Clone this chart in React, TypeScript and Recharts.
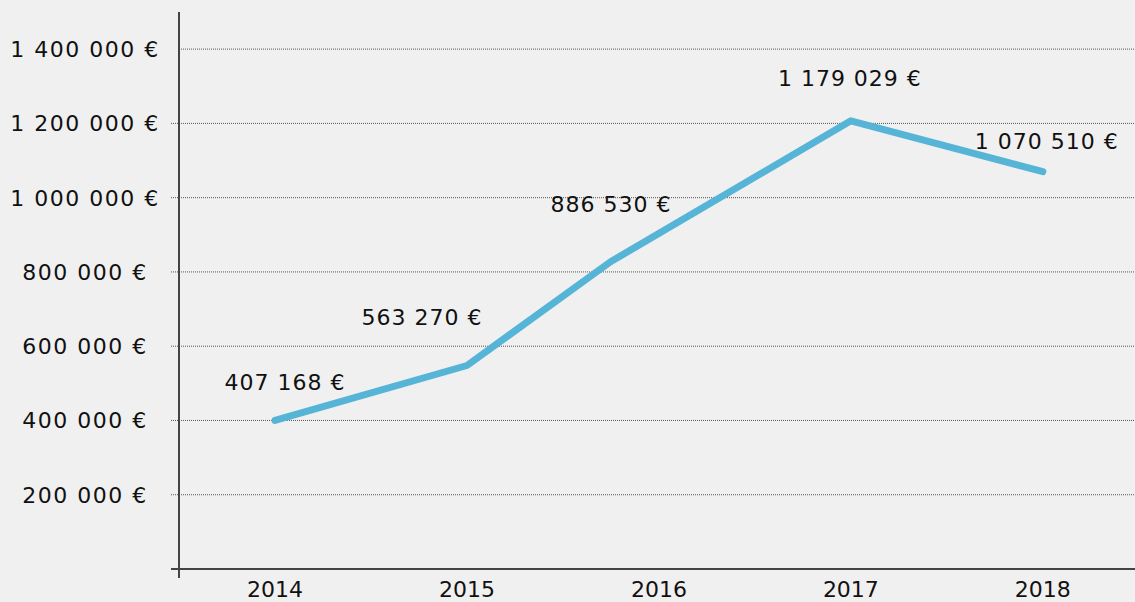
import React from 'react';
import { LineChart, Line, XAxis, YAxis, CartesianGrid, LabelList } from 'recharts';

// ---- data ----
const years = [2014, 2015, 2016, 2017, 2018];
const pointX = [2014, 2015, 2015.75, 2017, 2018];
const revenue = [400000, 548000, 828000, 1207000, 1070000];
const valueLabels = ['407 168 €', '563 270 €', '886 530 €', '1 179 029 €', '1 070 510 €'];
const yTicks = [0, 200000, 400000, 600000, 800000, 1000000, 1200000, 1400000];
const yTickLabels = ['', '200 000 €', '400 000 €', '600 000 €', '800 000 €', '1 000 000 €', '1 200 000 €', '1 400 000 €'];

// ---- styles ----
const labelOffsets: [number, number][] = [[10, -38], [-45, -48], [0, -57], [-1, -42], [4, -30]];
const FONT = '"DejaVu Sans", sans-serif';
const TEXT = '#111';
const AXIS = '#444';
const LINE = '#56b4d7';

const data = pointX.map((x, i) => ({ x, value: revenue[i], label: valueLabels[i] }));
const xTicks = [2013.5, ...years];

const YTick = (props: any) => {
  const { x, y, payload } = props;
  const idx = yTicks.indexOf(payload.value);
  const text = yTickLabels[idx] ?? '';
  return (
    <g>
      {payload.value === 0 ? (
        <line x1={x - 8} x2={x} y1={y} y2={y} stroke={AXIS} strokeWidth={2} />
      ) : idx < yTicks.length - 1 ? (
        <line x1={x - 8} x2={x} y1={y} y2={y} stroke="#555" strokeDasharray="1 1" />
      ) : null}
      {text && (
        <text x={x - 94} y={y + 8} textAnchor="middle" fill={TEXT} fontFamily={FONT} fontSize={22} letterSpacing={1.5}>
          {text}
        </text>
      )}
    </g>
  );
};

const XTick = (props: any) => {
  const { x, y, payload } = props;
  if (!years.includes(payload.value)) {
    return <line x1={x} x2={x} y1={y} y2={y + 9} stroke={AXIS} strokeWidth={2} />;
  }
  return (
    <text x={x} y={y + 28} textAnchor="middle" fill={TEXT} fontFamily={FONT} fontSize={22}>
      {String(payload.value)}
    </text>
  );
};

const ValueLabel = (props: any) => {
  const { x, y, index, value } = props;
  const [dx, dy] = labelOffsets[index] || [0, -30];
  return (
    <text x={x + dx} y={y + dy} dominantBaseline="central" textAnchor="middle" fill={TEXT} fontFamily={FONT} fontSize={22} letterSpacing={1}>
      {value}
    </text>
  );
};

export default function App() {
  return (
    <div style={{ position: 'absolute', left: 0, top: 0, width: 1135, height: 602, background: '#f0f0f0' }}>
      <LineChart width={1135} height={602} data={data} margin={{ top: 12, right: 0, bottom: 0, left: 0 }}>
        <CartesianGrid
          horizontal
          vertical={false}
          horizontalValues={yTicks}
          syncWithTicks
          stroke="#555"
          strokeDasharray="1 1"
        />
        <XAxis
          dataKey="x"
          type="number"
          domain={[2013.5, 2018.48]}
          ticks={xTicks}
          interval={0}
          allowDataOverflow
          height={33}
          tickSize={0}
          tickMargin={0}
          tickLine={false}
          axisLine={{ stroke: AXIS, strokeWidth: 2 }}
          tick={<XTick />}
        />
        <YAxis
          type="number"
          domain={[0, 1500000]}
          ticks={yTicks}
          interval={0}
          width={179}
          tickSize={0}
          tickMargin={0}
          tickLine={false}
          axisLine={{ stroke: AXIS, strokeWidth: 2 }}
          tick={<YTick />}
        />
        <Line
          type="linear"
          dataKey="value"
          stroke={LINE}
          strokeWidth={7}
          strokeLinecap="round"
          strokeLinejoin="round"
          dot={false}
          activeDot={false}
          isAnimationActive={false}
        >
          <LabelList dataKey="label" content={<ValueLabel />} />
        </Line>
      </LineChart>
    </div>
  );
}
